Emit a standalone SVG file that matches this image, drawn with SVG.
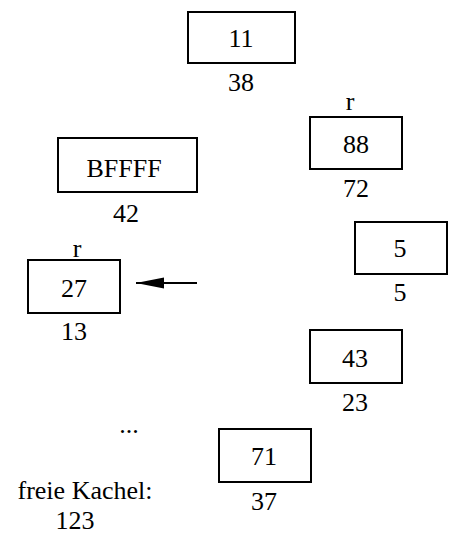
<svg xmlns="http://www.w3.org/2000/svg" width="452" height="534" viewBox="0 0 452 534">
<defs>
<style>
rect.k{fill:#fff;stroke:#000;stroke-width:2}
</style>
<marker id="ah" markerUnits="userSpaceOnUse" markerWidth="28" markerHeight="12" refX="28" refY="6" orient="auto" viewBox="0 0 28 12">
<path d="M28,6 L0,0.5 L0,11.5 Z" fill="#000"/>
</marker>
</defs>
<rect width="452" height="534" fill="#fff"/>
<g font-family="'Liberation Serif', 'DejaVu Serif', serif" font-size="26" text-anchor="middle" fill="#000">
<g id="n11"><rect class="k" x="188" y="12" width="107" height="51"/><text x="241" y="47">11</text><text x="241" y="91">38</text></g>
<g id="n88"><text x="350" y="110">r</text><rect class="k" x="310" y="117" width="92" height="52"/><text x="356" y="153">88</text><text x="356" y="197">72</text></g>
<g id="nBFFFF"><rect class="k" x="58" y="138" width="139" height="54"/><text x="124" y="177">BFFFF</text><text x="126" y="222">42</text></g>
<g id="n27"><text x="77" y="257">r</text><rect class="k" x="28" y="260" width="92" height="53"/><text x="74" y="297">27</text><text x="74" y="340">13</text></g>
<g id="n5"><rect class="k" x="355" y="222" width="92" height="52"/><text x="400" y="257">5</text><text x="400" y="301">5</text></g>
<g id="n43"><rect class="k" x="310" y="330" width="92" height="53"/><text x="355" y="367">43</text><text x="355" y="411">23</text></g>
<g id="n71"><rect class="k" x="219" y="429" width="92" height="53"/><text x="264" y="465">71</text><text x="264" y="510">37</text></g>
<g id="dots"><text x="129" y="433">...</text></g>
<g id="free"><text x="85" y="499">freie Kachel:</text><text x="75" y="529">123</text></g>
</g>
<g id="connectors"><line x1="197" y1="283" x2="136" y2="283" stroke="#000" stroke-width="2" marker-end="url(#ah)"/></g>
</svg>
